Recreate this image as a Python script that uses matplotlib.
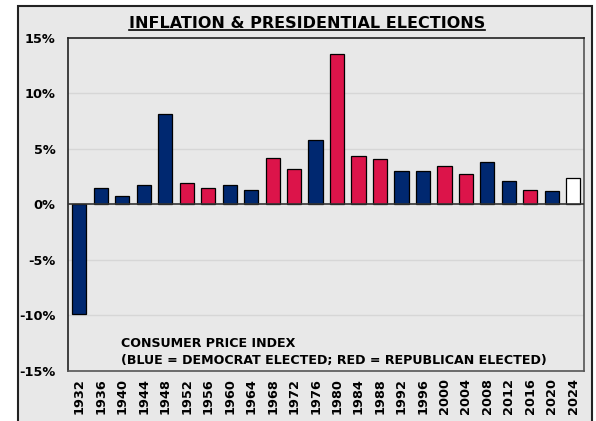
import matplotlib
matplotlib.use("Agg")
from matplotlib import pyplot as plt
from matplotlib.patches import Rectangle
from matplotlib.lines import Line2D

years = [1932, 1936, 1940, 1944, 1948, 1952, 1956, 1960, 1964, 1968, 1972, 1976,
         1980, 1984, 1988, 1992, 1996, 2000, 2004, 2008, 2012, 2016, 2020, 2024]
cpi = [-9.9, 1.5, 0.7, 1.7, 8.1, 1.9, 1.5, 1.7, 1.3, 4.2, 3.2, 5.8,
       13.5, 4.3, 4.1, 3.0, 3.0, 3.4, 2.7, 3.8, 2.1, 1.3, 1.2, 2.4]
winner = ["D", "D", "D", "D", "D", "R", "R", "D", "D", "R", "R", "D",
          "R", "R", "R", "D", "D", "R", "R", "D", "D", "R", "D", "?"]
yticks = [-15, -10, -5, 0, 5, 10, 15]

party_colors = {"D": "#002870", "R": "#dc144a", "?": "#ffffff"}
BG = "#e8e8e8"
FONT = "DejaVu Sans"

fig = plt.figure(figsize=(5.96, 4.21), dpi=100)
fig.patch.set_facecolor("white")

# outer panel frame
frame = Rectangle((18 / 596, -0.05), (592 - 18) / 596, 1.05 - 6 / 421,
                  transform=fig.transFigure, facecolor=BG, edgecolor="#222222",
                  linewidth=1.5, zorder=-10)
fig.patches.append(frame)

ax = fig.add_axes([68 / 596, 1 - 371 / 421, (584 - 68) / 596, (371 - 37.5) / 421])
ax.set_facecolor(BG)

x = list(range(len(years)))
colors = [party_colors[w] for w in winner]
ax.bar(x, cpi, width=0.66, color=colors, edgecolor="black", linewidth=0.9, zorder=3)

ax.set_xlim(-0.53, len(years) - 0.5)
ax.set_ylim(-15, 15)
ax.set_yticks(yticks)
ax.set_yticklabels([f"{v}%" for v in yticks], fontfamily=FONT, fontweight="bold",
                   fontsize=9.3)
ax.set_xticks(x)
ax.set_xticklabels([str(y) for y in years], rotation=90, fontfamily=FONT,
                   fontweight="bold", fontsize=9.3)
ax.tick_params(axis="y", length=0, pad=9)
ax.tick_params(axis="x", length=0, pad=5)

for v in [-10, -5, 5, 10]:
    ax.axhline(v, color="#d6d6d6", linewidth=1.0, zorder=1)
ax.axhline(0, color="#333333", linewidth=1.2, zorder=4)

for side in ["left", "top"]:
    ax.spines[side].set_color("#222222")
    ax.spines[side].set_linewidth(1.2)
for side in ["right", "bottom"]:
    ax.spines[side].set_color("#555555")
    ax.spines[side].set_linewidth(1.2)

ax.text(0.103, 0.058, "CONSUMER PRICE INDEX\n(BLUE = DEMOCRAT ELECTED; RED = REPUBLICAN ELECTED)",
        transform=ax.transAxes, fontfamily=FONT, fontweight="bold", fontsize=9.1,
        va="center", ha="left", linespacing=1.4)

title = fig.text(307 / 596, 1 - 23 / 421, "INFLATION & PRESIDENTIAL ELECTIONS",
                 fontfamily=FONT, fontweight="bold", fontsize=11.5, ha="center", va="center")

# underline the title
fig.canvas.draw()
bb = title.get_window_extent().transformed(fig.transFigure.inverted())
uy = bb.y0 + 0.5 / 421
fig.add_artist(Line2D([bb.x0, bb.x1], [uy, uy], transform=fig.transFigure,
                      color="black", linewidth=1.2))

fig.savefig("out.png", dpi=100)
